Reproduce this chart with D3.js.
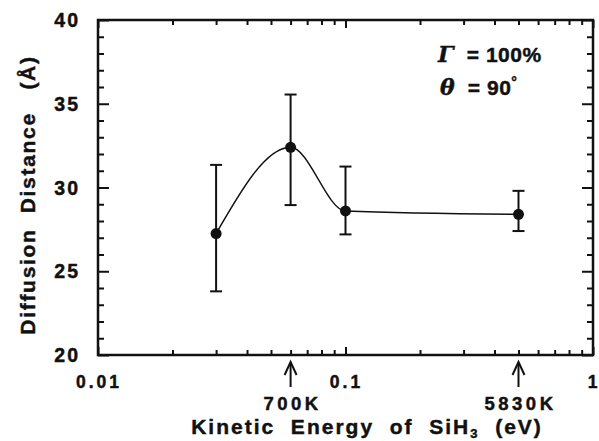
<!DOCTYPE html>
<html>
<head>
  <meta charset="utf-8">
  <title>Diffusion distance vs kinetic energy</title>
  <script src="https://d3js.org/d3.v7.min.js"></script>
  <style>
    body { margin: 0; background: #fff; }
    text { font-family: "Liberation Sans", Arial, Helvetica, sans-serif; font-weight: bold; fill: #111; stroke: #111; stroke-width: 0.45px; }
  </style>
</head>
<body>
  <script>
    // kinetic energy (eV) and diffusion distance (A)
    let energy = [0.03, 0.06, 0.1, 0.5];
    let distance = [27.25, 32.4, 28.6, 28.4];
    let errLow = [23.8, 28.95, 27.2, 27.4];
    let errHigh = [31.35, 35.55, 31.25, 29.8];

    let xTicks = [0.01, 0.1, 1];
    let xTickLabels = ["0.01", "0.1", "1"];
    let yTicks = [20, 25, 30, 35, 40];

    // temperature markers
    let markerEnergy = [0.06, 0.5];
    let markerLabels = ["700K", "5830K"];

    let width = 599;
    let height = 441;
    let plotLeft = 98, plotRight = 593, plotTop = 20, plotBottom = 355;

    let svg = d3.select("body")
      .append("svg")
      .attr("width", width)
      .attr("height", height);

    let x = d3.scaleLog()
      .domain([0.01, 1])
      .range([plotLeft, plotRight]);

    let y = d3.scaleLinear()
      .domain([20, 40])
      .range([plotBottom, plotTop]);

    // minor ticks
    let xMinor = [];
    [0.01, 0.1].forEach(function(d) {
      for (let i = 2; i <= 9; i++) xMinor.push(d * i);
    });
    let yMinor = d3.range(20, 41, 1).filter(function(d) { return d % 5 != 0; });

    let axes = svg.append("g");

    // bottom / top
    axes.append("g")
      .attr("transform", "translate(0," + plotBottom + ")")
      .call(d3.axisBottom(x).tickValues(xTicks).tickSize(-8).tickFormat(""));
    axes.append("g")
      .attr("transform", "translate(0," + plotBottom + ")")
      .call(d3.axisBottom(x).tickValues(xMinor).tickSize(-5).tickFormat(""));
    axes.append("g")
      .attr("transform", "translate(0," + plotTop + ")")
      .call(d3.axisTop(x).tickValues(xTicks).tickSize(-8).tickFormat(""));
    axes.append("g")
      .attr("transform", "translate(0," + plotTop + ")")
      .call(d3.axisTop(x).tickValues(xMinor).tickSize(-5).tickFormat(""));

    // left / right
    axes.append("g")
      .attr("transform", "translate(" + plotLeft + ",0)")
      .call(d3.axisLeft(y).tickValues(yTicks).tickSize(-11).tickFormat(""));
    axes.append("g")
      .attr("transform", "translate(" + plotLeft + ",0)")
      .call(d3.axisLeft(y).tickValues(yMinor).tickSize(-6).tickFormat(""));
    axes.append("g")
      .attr("transform", "translate(" + plotRight + ",0)")
      .call(d3.axisRight(y).tickValues(yTicks).tickSize(-11).tickFormat(""));
    axes.append("g")
      .attr("transform", "translate(" + plotRight + ",0)")
      .call(d3.axisRight(y).tickValues(yMinor).tickSize(-6).tickFormat(""));

    axes.selectAll(".domain").remove();
    axes.selectAll(".tick line").attr("stroke", "#111").attr("stroke-width", 2);

    svg.append("rect")
      .attr("x", plotLeft)
      .attr("y", plotTop)
      .attr("width", plotRight - plotLeft)
      .attr("height", plotBottom - plotTop)
      .attr("fill", "none")
      .attr("stroke", "#111")
      .attr("stroke-width", 2.5);

    // tick labels
    svg.selectAll(".ylab")
      .data(yTicks)
      .enter()
      .append("text")
      .attr("x", 80)
      .attr("y", function(d) { return y(d) + 7; })
      .attr("text-anchor", "end")
      .attr("font-size", 19.5)
      .attr("letter-spacing", 2)
      .text(function(d) { return d; });

    svg.selectAll(".xlab")
      .data(xTicks)
      .enter()
      .append("text")
      .attr("x", function(d) { return x(d) + 1; })
      .attr("y", 388)
      .attr("text-anchor", "middle")
      .attr("font-size", 17.5)
      .attr("letter-spacing", 3)
      .text(function(d, i) { return xTickLabels[i]; });

    // temperature arrows
    let markers = svg.selectAll(".marker")
      .data(markerEnergy)
      .enter()
      .append("g");
    markers.append("line")
      .attr("x1", function(d) { return x(d); })
      .attr("x2", function(d) { return x(d); })
      .attr("y1", 364)
      .attr("y2", 387)
      .attr("stroke", "#111")
      .attr("stroke-width", 2);
    markers.append("path")
      .attr("d", function(d) {
        let cx = x(d);
        return "M" + (cx - 6) + ",375L" + cx + ",362L" + (cx + 6) + ",375";
      })
      .attr("fill", "none")
      .attr("stroke", "#111")
      .attr("stroke-width", 2);
    markers.append("text")
      .attr("x", function(d) { return x(d) + 2; })
      .attr("y", 410)
      .attr("text-anchor", "middle")
      .attr("font-size", 18.5)
      .attr("letter-spacing", 3.5)
      .text(function(d, i) { return markerLabels[i]; });

    // axis titles
    let xTitle = svg.append("text")
      .attr("x", 367)
      .attr("y", 434)
      .attr("text-anchor", "middle")
      .attr("font-size", 21)
      .attr("letter-spacing", 2)
      .attr("xml:space", "preserve");
    xTitle.append("tspan").text("Kinetic  Energy  of  SiH");
    xTitle.append("tspan").attr("font-size", 13).attr("dy", 4).text("3");
    xTitle.append("tspan").attr("dy", -4).text("  (eV)");

    svg.append("text")
      .attr("transform", "translate(35,195) rotate(-90)")
      .attr("text-anchor", "middle")
      .attr("font-size", 21)
      .attr("letter-spacing", 1.7)
      .attr("xml:space", "preserve")
      .text("Diffusion  Distance   (Å)");

    // annotation
    let note = svg.append("g");
    let l1 = note.append("text").attr("x", 438).attr("y", 62).attr("font-size", 21).attr("letter-spacing", 0.5).attr("xml:space", "preserve");
    l1.append("tspan").attr("font-family", "'DejaVu Serif', serif").attr("font-style", "italic").attr("font-size", 22).text("Γ");
    l1.append("tspan").text("  = 100%");
    let l2 = note.append("text").attr("x", 440).attr("y", 95).attr("font-size", 21).attr("letter-spacing", 0.5).attr("xml:space", "preserve");
    l2.append("tspan").attr("font-family", "'DejaVu Serif', serif").attr("font-style", "italic").attr("font-size", 22).text("θ");
    l2.append("tspan").text("  = 90");
    l2.append("tspan").attr("dy", -8).attr("font-size", 14).text("°");

    // curve through points
    let pts = energy.map(function(d, i) { return [x(d), y(distance[i])]; });
    svg.append("path")
      .datum(pts)
      .attr("fill", "none")
      .attr("stroke", "#111")
      .attr("stroke-width", 1.4)
      .attr("d", d3.line().curve(d3.curveMonotoneX));

    // error bars
    let bars = svg.selectAll(".err")
      .data(energy)
      .enter()
      .append("g")
      .attr("stroke", "#111")
      .attr("stroke-width", 2);
    bars.append("line")
      .attr("x1", function(d) { return x(d); })
      .attr("x2", function(d) { return x(d); })
      .attr("y1", function(d, i) { return y(errLow[i]); })
      .attr("y2", function(d, i) { return y(errHigh[i]); });
    bars.append("line")
      .attr("x1", function(d) { return x(d) - 6; })
      .attr("x2", function(d) { return x(d) + 6; })
      .attr("y1", function(d, i) { return y(errLow[i]); })
      .attr("y2", function(d, i) { return y(errLow[i]); });
    bars.append("line")
      .attr("x1", function(d) { return x(d) - 6; })
      .attr("x2", function(d) { return x(d) + 6; })
      .attr("y1", function(d, i) { return y(errHigh[i]); })
      .attr("y2", function(d, i) { return y(errHigh[i]); });

    svg.selectAll(".pt")
      .data(energy)
      .enter()
      .append("circle")
      .attr("cx", function(d) { return x(d); })
      .attr("cy", function(d, i) { return y(distance[i]); })
      .attr("r", 5.5)
      .attr("fill", "#111");
  </script>
</body>
</html>
